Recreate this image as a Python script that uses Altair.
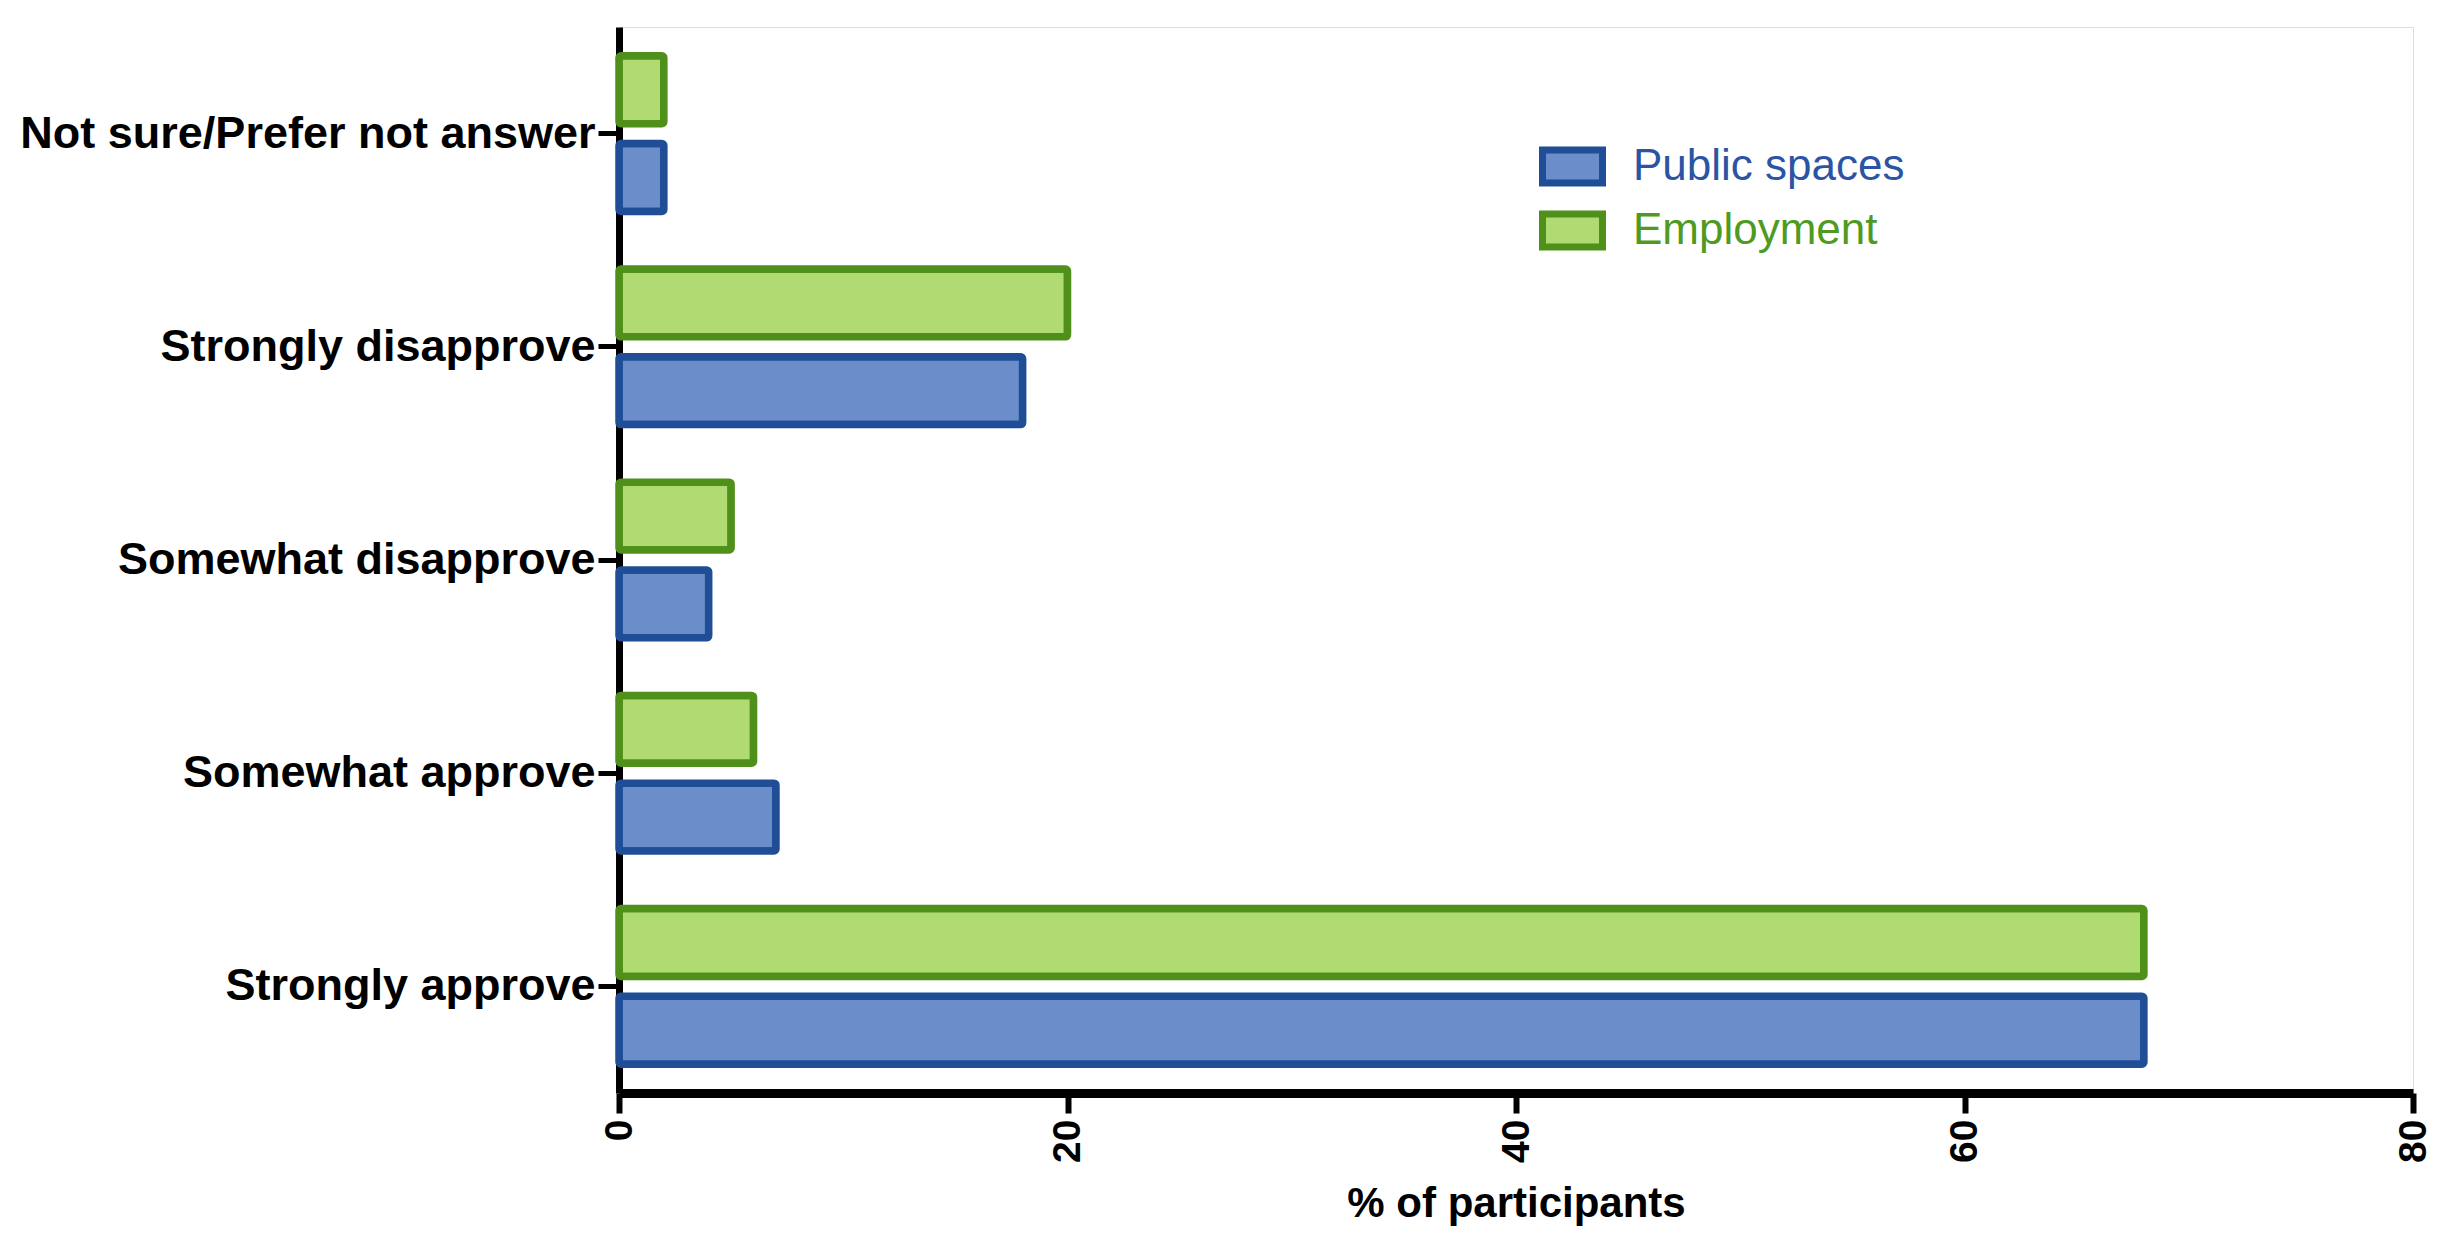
import altair as alt
import pandas as pd

categories = [
    "Not sure/Prefer not answer",
    "Strongly disapprove",
    "Somewhat disapprove",
    "Somewhat approve",
    "Strongly approve",
]
public_spaces = [2, 18, 4, 7, 68]
employment = [2, 20, 5, 6, 68]
series_names = ["Public spaces", "Employment"]
x_ticks = [0, 20, 40, 60, 80]

rows = []
for c, p, e in zip(categories, public_spaces, employment):
    rows.append({"category": c, "series": "Public spaces", "value": p})
    rows.append({"category": c, "series": "Employment", "value": e})
df = pd.DataFrame(rows)

FONT = "Liberation Sans"
BLUE_FILL, BLUE_STROKE, BLUE_TEXT = "#6B8DCA", "#1F4E96", "#2B55A4"
GREEN_FILL, GREEN_STROKE, GREEN_TEXT = "#B0DA72", "#4E9019", "#4F9A20"
RECT = "M-1,-0.55L1,-0.55L1,0.55L-1,0.55Z"

x_enc = alt.X(
    "value:Q",
    scale=alt.Scale(domain=[0, 80], nice=False, zero=True),
    axis=alt.Axis(
        values=x_ticks, title="% of participants", grid=False,
        labelAngle=270, labelFont=FONT, labelFontWeight="bold", labelFontSize=39,
        labelColor="black", labelPadding=6,
        tickSize=20, tickWidth=6, tickColor="black",
        domainWidth=9, domainColor="black",
        titleFont=FONT, titleFontWeight="bold", titleFontSize=42, titleColor="black",
        titlePadding=21,
    ),
)
y_enc = alt.Y(
    "category:N", sort=categories,
    scale=alt.Scale(paddingInner=0.27, paddingOuter=0.135),
    axis=alt.Axis(
        title=None, labelFont=FONT, labelFontWeight="bold", labelFontSize=45,
        labelColor="black", labelPadding=3, labelLimit=0,
        tickSize=21, tickWidth=5, tickColor="black",
        domainWidth=7, domainColor="black",
    ),
)
yoff_enc = alt.YOffset(
    "series:N", sort=["Employment", "Public spaces"],
    scale=alt.Scale(domain=["Employment", "Public spaces"], paddingInner=0.227, paddingOuter=0),
)

def layer(name, fill, stroke, text_color, ly):
    return alt.Chart(df).transform_filter(
        alt.datum.series == name
    ).mark_bar(stroke=stroke, strokeWidth=7.5, cornerRadius=2).encode(
        x=x_enc, y=y_enc, yOffset=yoff_enc,
        color=alt.Color(
            "series:N",
            scale=alt.Scale(domain=[name], range=[fill]),
            legend=alt.Legend(
                title=None, orient="none", legendX=920, legendY=ly, padding=0,
                labelFont=FONT, labelFontSize=44, labelColor=text_color,
                labelLimit=0, labelOffset=27, symbolType=RECT, symbolSize=3600,
                symbolStrokeColor=stroke, symbolStrokeWidth=7,
                symbolFillColor=fill, symbolOpacity=1,
            ),
        ),
    )

chart = alt.layer(
    layer("Public spaces", BLUE_FILL, BLUE_STROKE, BLUE_TEXT, 106),
    layer("Employment", GREEN_FILL, GREEN_STROKE, GREEN_TEXT, 170),
).resolve_scale(color="independent").properties(
    width=1794, height=1066,
    padding={"top": 19, "left": 11, "right": 5, "bottom": 2},
).configure_view(stroke=None).configure(background="white")

chart.save("out.html", embed_options={"renderer": "svg", "actions": False})
